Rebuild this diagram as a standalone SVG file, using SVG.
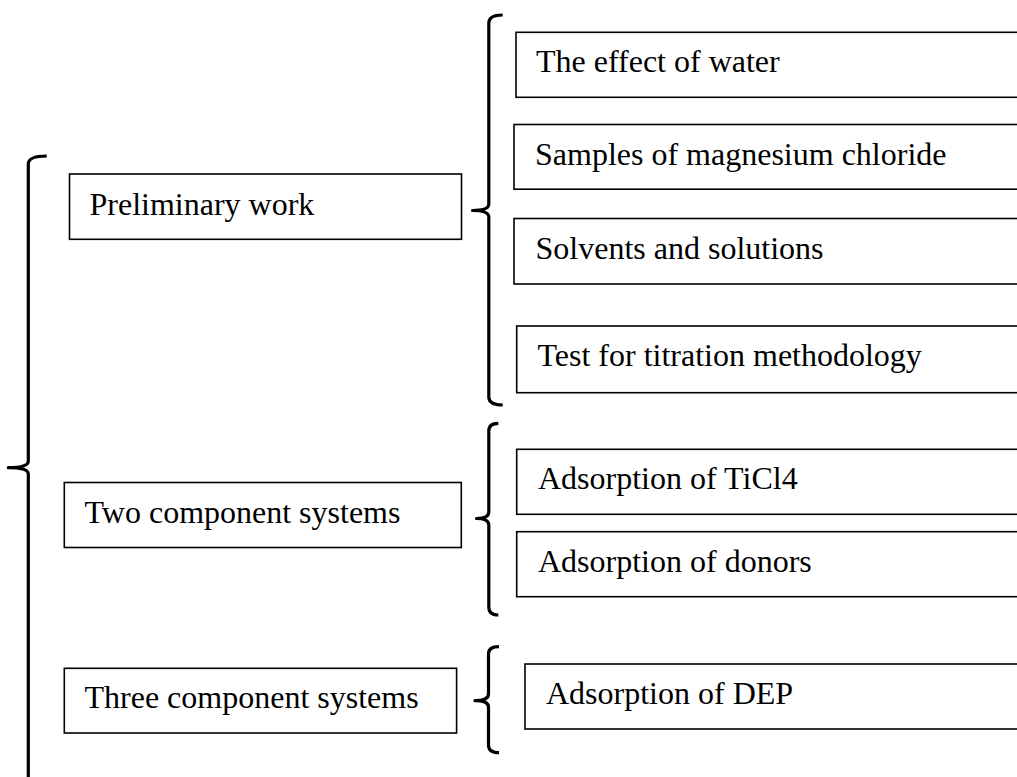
<svg xmlns="http://www.w3.org/2000/svg" width="1017" height="777" viewBox="0 0 1017 777">
<style>
.box{fill:#fff;stroke:#000;stroke-width:1.6}
.lbl{font-family:"Liberation Serif","Times New Roman",serif;font-size:32px;fill:#000}
.brace{fill:none;stroke:#000;stroke-width:3.2;stroke-linejoin:round;stroke-linecap:butt}
</style>
<rect width="1017" height="777" fill="#fff"/>
<g id="connectors">
<path class="brace" d="M46.7,156 Q28.3,156 28.3,164 L28.3,461 Q28.3,467.7 8.3,467.7 Q28.3,467.7 28.3,474 L28.3,790"/>
<path class="brace" d="M502.7,15 Q488.8,15 488.8,23 L488.8,204 Q488.8,210.5 472.5,210.5 Q488.8,210.5 488.8,217 L488.8,397 Q488.8,405 502.7,405"/>
<path class="brace" d="M498.3,423.3 Q488.8,423.3 488.8,431 L488.8,512 Q488.8,518.5 476.5,518.5 Q488.8,518.5 488.8,525 L488.8,607 Q488.8,615 498.3,615"/>
<path class="brace" d="M499,646.7 Q488.5,646.7 488.5,654 L488.5,694 Q488.5,700.7 475,700.7 Q488.5,700.7 488.5,707 L488.5,745 Q488.5,752.7 499,752.7"/>
</g>
<g id="n-preliminary"><rect class="box" x="69.5" y="174" width="392" height="65.3"/><text class="lbl" x="89.5" y="215">Preliminary work</text></g>
<g id="n-two"><rect class="box" x="64.3" y="482.5" width="397" height="65"/><text class="lbl" x="84.5" y="522.7">Two component systems</text></g>
<g id="n-three"><rect class="box" x="64.3" y="668.3" width="392.3" height="64.7"/><text class="lbl" x="84.5" y="708.3">Three component systems</text></g>
<g id="n-water"><rect class="box" x="516" y="32.3" width="520" height="65"/><text class="lbl" x="536" y="72.3">The effect of water</text></g>
<g id="n-samples"><rect class="box" x="514" y="124.5" width="520" height="64.7"/><text class="lbl" x="535" y="164.5">Samples of magnesium chloride</text></g>
<g id="n-solvents"><rect class="box" x="514" y="218.5" width="520" height="65.5"/><text class="lbl" x="535.5" y="258.5">Solvents and solutions</text></g>
<g id="n-test"><rect class="box" x="516.7" y="326" width="520" height="66.7"/><text class="lbl" x="537.5" y="366">Test for titration methodology</text></g>
<g id="n-ticl4"><rect class="box" x="516.7" y="449.3" width="520" height="65"/><text class="lbl" x="538" y="489.3">Adsorption of TiCl4</text></g>
<g id="n-donors"><rect class="box" x="516.7" y="531.7" width="520" height="65"/><text class="lbl" x="538" y="571.7">Adsorption of donors</text></g>
<g id="n-dep"><rect class="box" x="525" y="664" width="520" height="65"/><text class="lbl" x="546" y="703.5">Adsorption of DEP</text></g>
</svg>
